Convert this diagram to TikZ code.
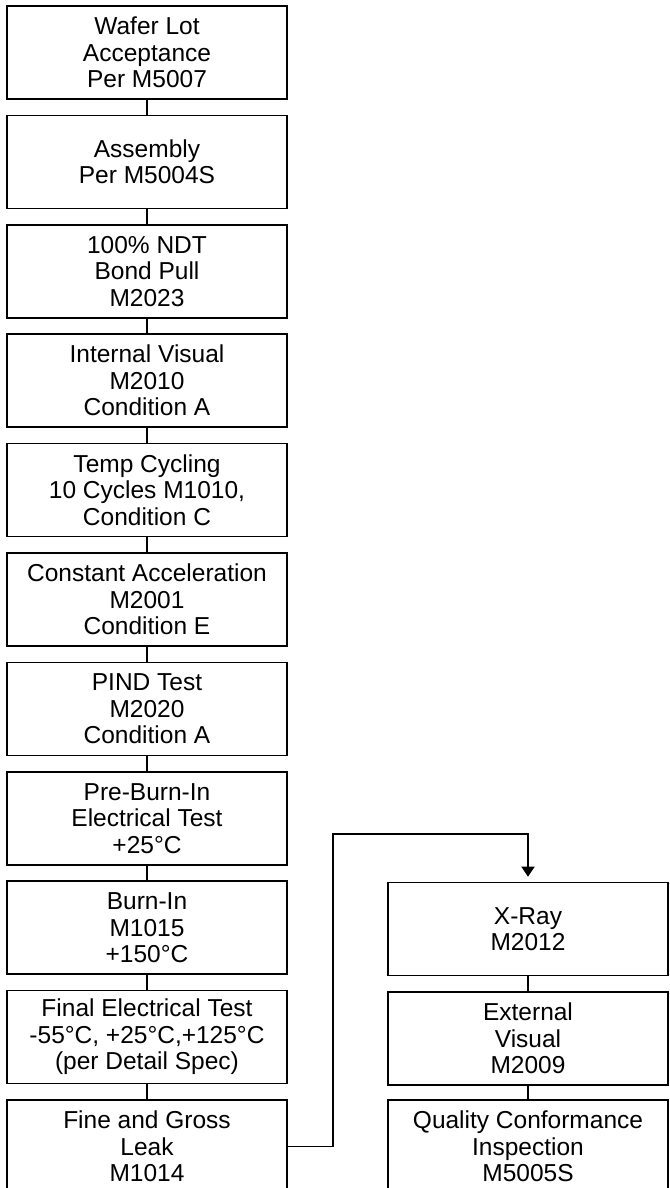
\documentclass[tikz,border=0pt]{standalone}
\usepackage{fontspec}
\setmainfont{Liberation Sans}
\usetikzlibrary{arrows.meta}
\begin{document}
\begin{tikzpicture}[x=1pt,y=-1pt,
  stepbox/.style={draw=black,line width=1.6pt,minimum width=280pt,minimum height=93pt,
    inner sep=0pt,align=center,font=\fontsize{24.5}{26.5}\selectfont},
  link/.style={draw=black,line width=1.6pt},
  arr/.style={link,-{Triangle[width=13pt,length=10pt]},shorten >=5pt}]
\clip (0,0) rectangle (669,1188);
\fill[white] (0,0) rectangle (669,1188);
\node[stepbox] (b1) at (147,52.5) {Wafer Lot\\Acceptance\\Per M5007};
\node[stepbox] (b2) at (147,161.9) {Assembly\\Per M5004S};
\node[stepbox] (b3) at (147,271.3) {100\% NDT\\Bond Pull\\M2023};
\node[stepbox] (b4) at (147,380.7) {Internal Visual\\M2010\\Condition A};
\node[stepbox] (b5) at (147,490.1) {Temp Cycling\\10 Cycles M1010,\\Condition C};
\node[stepbox] (b6) at (147,599.5) {Constant Acceleration\\M2001\\Condition E};
\node[stepbox] (b7) at (147,708.9) {PIND Test\\M2020\\Condition A};
\node[stepbox] (b8) at (147,818.3) {Pre-Burn-In\\Electrical Test\\+25°C};
\node[stepbox] (b9) at (147,927.7) {Burn-In\\M1015\\+150°C};
\node[stepbox] (b10) at (147,1037.1) {Final Electrical Test\\-55°C, +25°C,+125°C\\(per Detail Spec)};
\node[stepbox] (b11) at (147,1146.5) {Fine and Gross\\Leak\\M1014};
\node[stepbox] (r1) at (528,929) {X-Ray\\M2012};
\node[stepbox] (r2) at (528,1038.5) {External\\Visual\\M2009};
\node[stepbox] (r3) at (528,1146.5) {Quality Conformance\\Inspection\\M5005S};
\foreach \a/\b in {b1/b2,b2/b3,b3/b4,b4/b5,b5/b6,b6/b7,b7/b8,b8/b9,b9/b10,b10/b11,r1/r2,r2/r3}
  \draw[link] (\a.south) -- (\b.north);
\coordinate (t1) at (333,834);
\draw[arr] (b11.east) -| (t1) -| (r1.north);
\end{tikzpicture}
\end{document}
